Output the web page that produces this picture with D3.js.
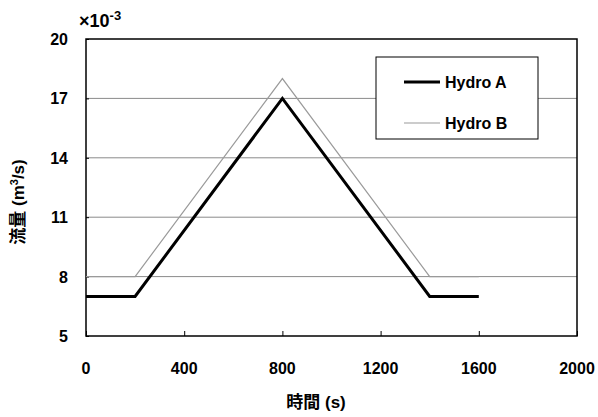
<!DOCTYPE html>
<meta charset="utf-8">
<style>
  body { margin: 0; background: #fff; }
  text { font-family: "Liberation Sans", Arial, "Noto Sans CJK JP", sans-serif; font-weight: bold; fill: #000; }
</style>
<body>
<svg width="598" height="417"></svg>
<script src="https://cdn.jsdelivr.net/npm/d3@7"></script>
<script>
// data (flow in 1e-3 m3/s)
var timeA = [0, 200, 800, 1400, 1600];
var flowA = [7, 7, 17, 7, 7];
var timeB = [0, 200, 800, 1400, 1600];
var flowB = [8, 8, 18, 8, 8];
var seriesNames = ["Hydro A", "Hydro B"];
var xTicks = [0, 400, 800, 1200, 1600, 2000];
var yTicks = [5, 8, 11, 14, 17, 20];

var svg = d3.select("svg");
var plotL = 86, plotR = 577, plotT = 39, plotB = 336;

var x = d3.scaleLinear().domain([0, 2000]).range([plotL, plotR]);
var y = d3.scaleLinear().domain([5, 20]).range([plotB, plotT]);

// gridlines
svg.append("g").selectAll("line")
  .data(yTicks.filter(function(d) { return d > 5 && d < 20; }))
  .enter().append("line")
    .attr("x1", plotL).attr("x2", plotR)
    .attr("y1", function(d) { return y(d); })
    .attr("y2", function(d) { return y(d); })
    .attr("stroke", "#8a8a8a").attr("stroke-width", 1);

// frame
svg.append("rect")
  .attr("x", plotL).attr("y", plotT)
  .attr("width", plotR - plotL).attr("height", plotB - plotT)
  .attr("fill", "none").attr("stroke", "#000").attr("stroke-width", 1.5);

// axes with small inward ticks
var xAxis = svg.append("g").attr("transform", "translate(0," + plotB + ")")
  .call(d3.axisTop(x).tickValues(xTicks).tickSize(5).tickFormat(""));
xAxis.select(".domain").remove();
xAxis.selectAll("line").attr("stroke", "#000");

var yAxis = svg.append("g").attr("transform", "translate(" + plotL + ",0)")
  .call(d3.axisRight(y).tickValues(yTicks).tickSize(3).tickFormat(""));
yAxis.select(".domain").remove();
yAxis.selectAll("line").attr("stroke", "#000");

// tick labels
svg.append("g").selectAll("text")
  .data(xTicks).enter().append("text")
    .attr("x", function(d) { return x(d); })
    .attr("y", 374)
    .attr("text-anchor", "middle")
    .attr("font-size", 16)
    .text(function(d) { return d; });

svg.append("g").selectAll("text")
  .data(yTicks).enter().append("text")
    .attr("x", 68)
    .attr("y", function(d) { return y(d) + 6; })
    .attr("text-anchor", "end")
    .attr("font-size", 16)
    .text(function(d) { return d; });

// x10^-3 label
var mult = svg.append("text").attr("x", 79).attr("y", 27).attr("font-size", 18).attr("font-weight", "normal");
mult.append("tspan").text("×10");
mult.append("tspan").attr("dy", -7).attr("font-size", 13).text("-3");

// axis titles
svg.append("text")
  .attr("x", 316).attr("y", 408)
  .attr("text-anchor", "middle").attr("font-size", 17)
  .text("時間 (s)");

var yt = svg.append("text")
  .attr("transform", "translate(24,202) rotate(-90)")
  .attr("text-anchor", "middle").attr("font-size", 17);
yt.append("tspan").text("流量 (m");
yt.append("tspan").attr("dy", -6).attr("font-size", 11).text("3");
yt.append("tspan").attr("dy", 6).text("/s)");

// series lines
var line = d3.line()
  .x(function(d) { return x(d[0]); })
  .y(function(d) { return y(d[1]); });

svg.append("path")
  .datum(d3.zip(timeB, flowB))
  .attr("d", line)
  .attr("fill", "none").attr("stroke", "#9a9a9a").attr("stroke-width", 1.2);

svg.append("path")
  .datum(d3.zip(timeA, flowA))
  .attr("d", line)
  .attr("fill", "none").attr("stroke", "#000").attr("stroke-width", 3);

// legend
var lg = svg.append("g");
lg.append("rect")
  .attr("x", 376).attr("y", 57).attr("width", 162).attr("height", 82)
  .attr("fill", "#fff").attr("stroke", "#000").attr("stroke-width", 1);
var styles = [{ c: "#000", w: 3 }, { c: "#9a9a9a", w: 1.2 }];
seriesNames.forEach(function(name, i) {
  var ly = 82 + i * 41;
  lg.append("line")
    .attr("x1", 404).attr("x2", 440).attr("y1", ly).attr("y2", ly)
    .attr("stroke", styles[i].c).attr("stroke-width", styles[i].w);
  lg.append("text")
    .attr("x", 445).attr("y", ly + 6)
    .attr("font-size", 16)
    .text(name);
});
</script>
</body>
